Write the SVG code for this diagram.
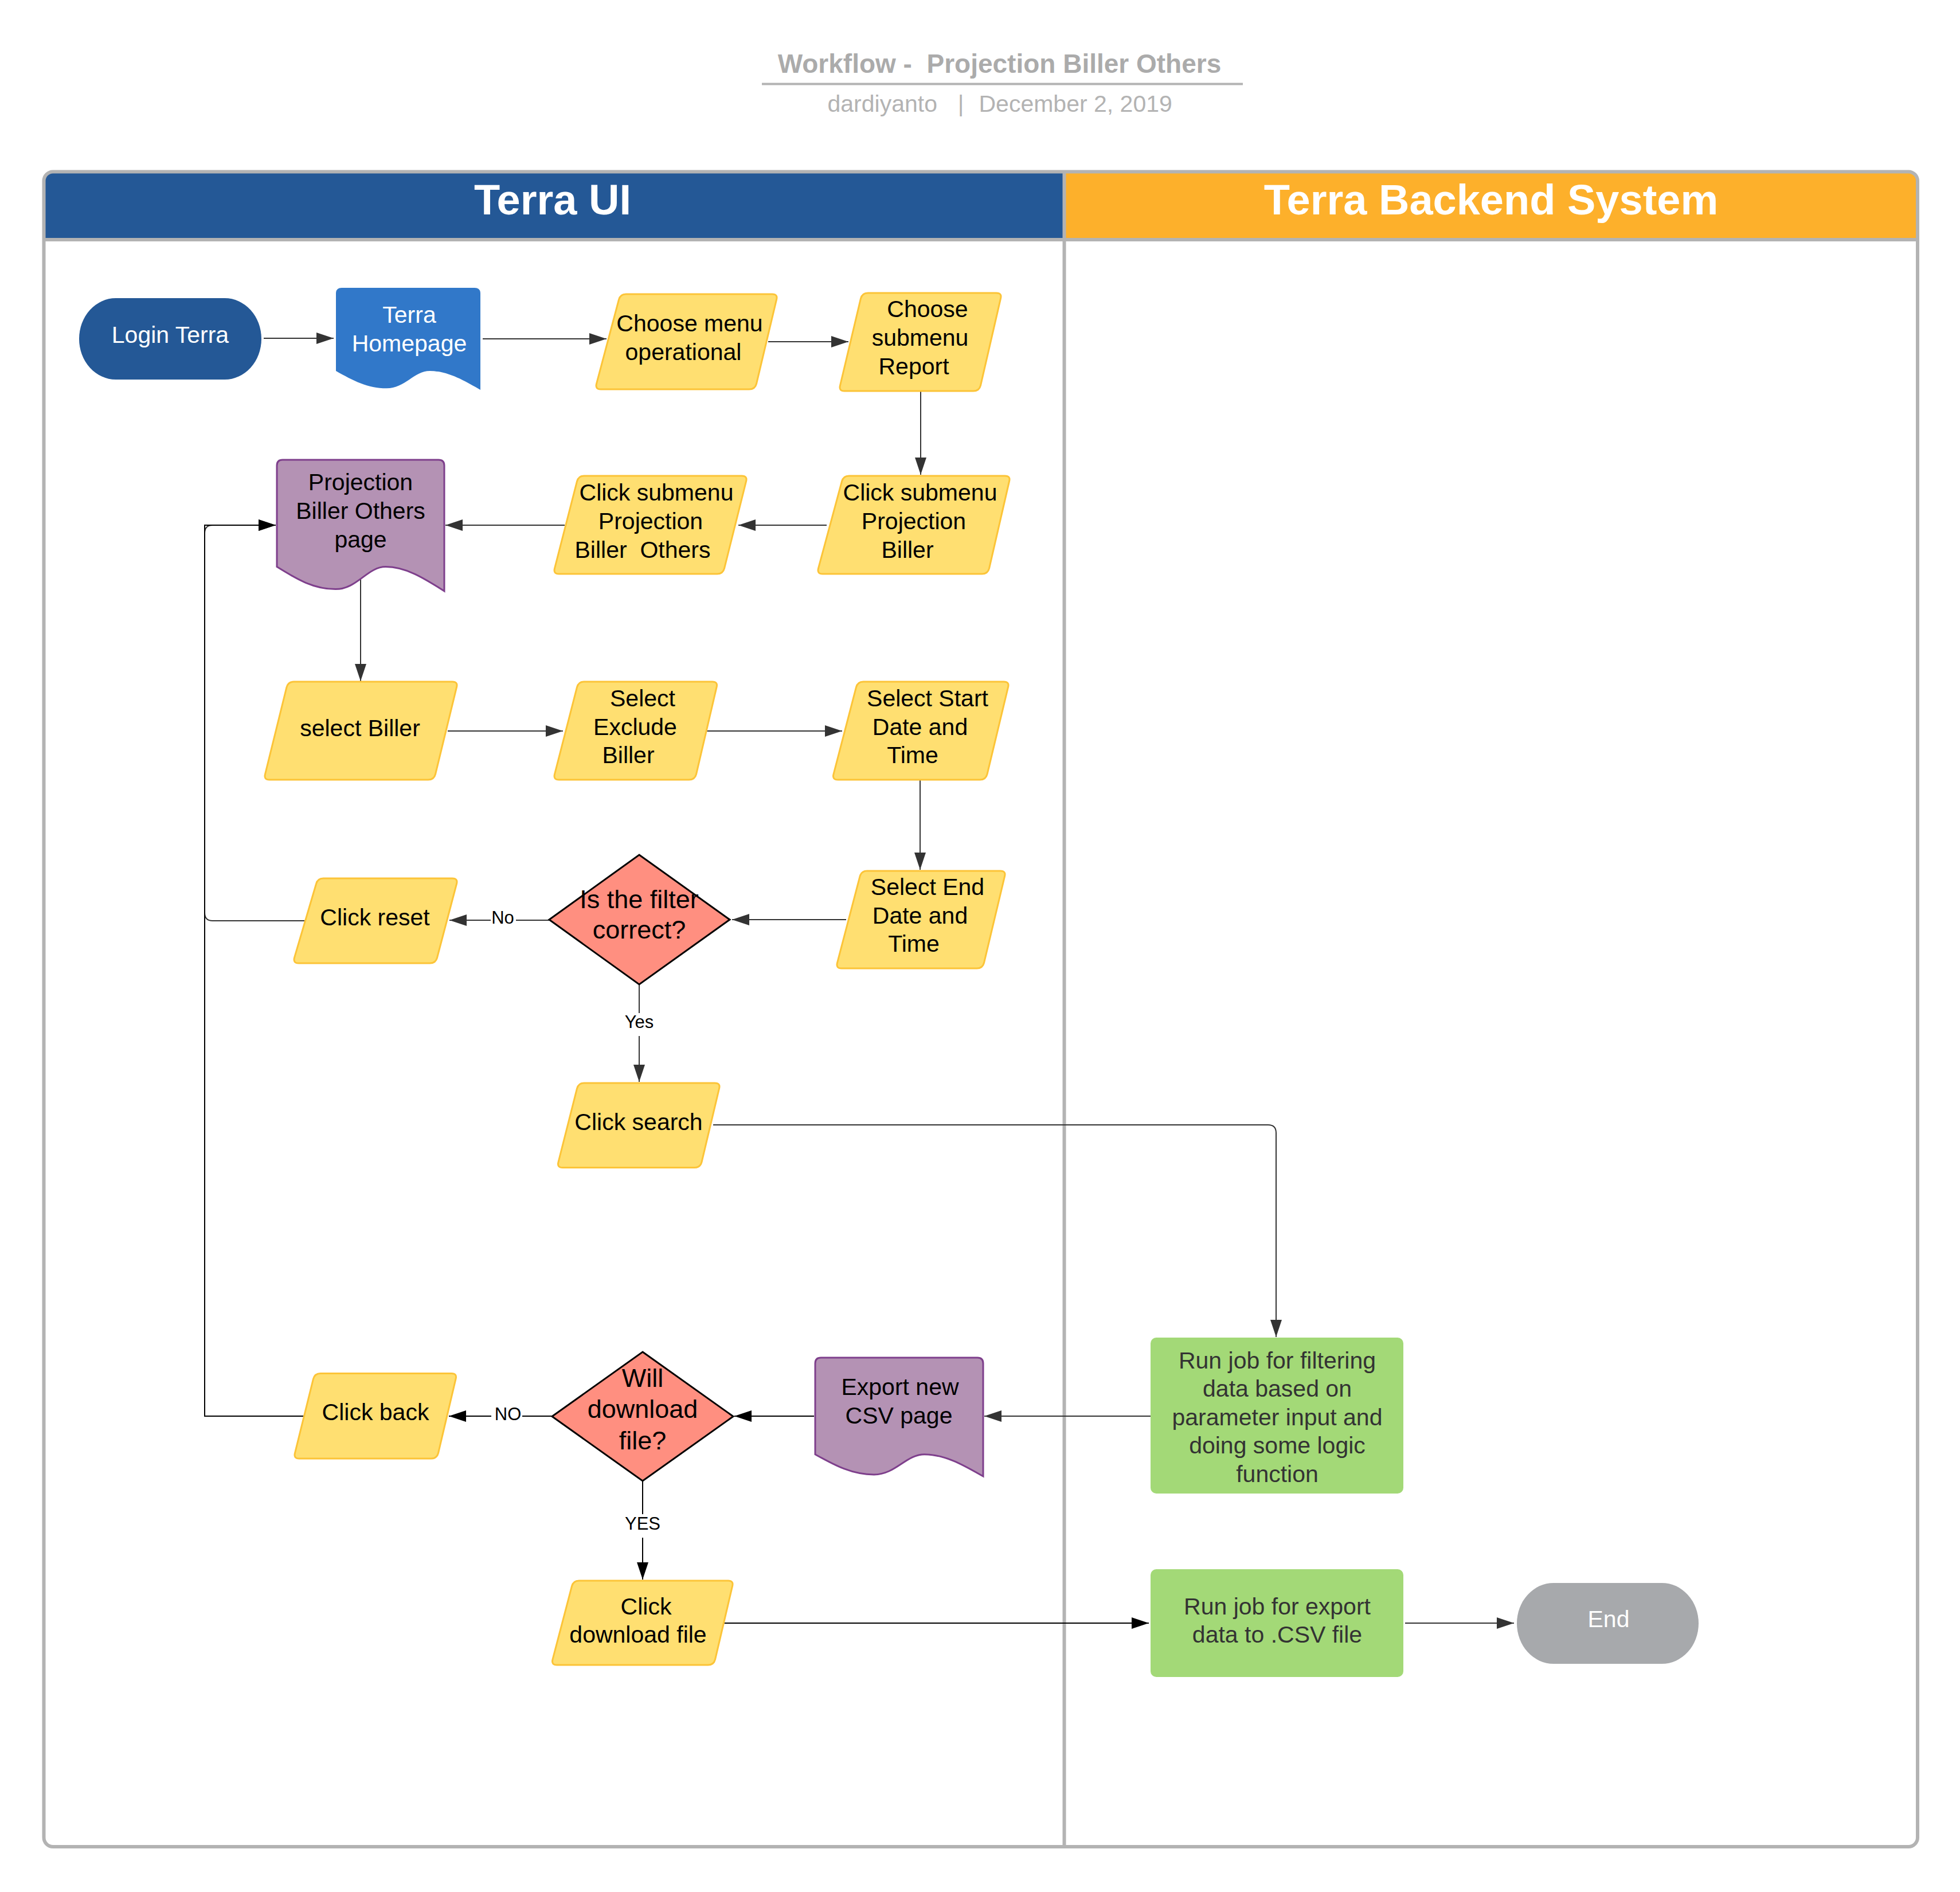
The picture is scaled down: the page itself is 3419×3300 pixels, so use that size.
<svg xmlns="http://www.w3.org/2000/svg" width="3419" height="3300" viewBox="0 0 3419 3300">
  <style>
    text { font-family: "Liberation Sans", Arial, sans-serif; }
    .t { font-size: 41px; text-anchor: middle; fill: #000; }
    .tw { font-size: 41px; text-anchor: middle; fill: #fff; }
    .tg { font-size: 41px; text-anchor: middle; fill: #333; }
    .td { font-size: 45px; text-anchor: middle; fill: #000; }
    .lbl { font-size: 31px; text-anchor: middle; fill: #000; }
    .hdr { font-size: 74px; font-weight: bold; text-anchor: middle; fill: #fff; }
    .para { fill: #FFDF71; stroke: #FCC438; stroke-width: 3; stroke-linejoin: round; }
    .dia { fill: #FF8F80; stroke: #000; stroke-width: 3; stroke-linejoin: miter; }
    .doc { fill: #B492B4; stroke: #7E3F8C; stroke-width: 3; }
    .green { fill: #A3D977; }
    .conn { fill: none; stroke: #333; stroke-width: 2; marker-end: url(#ah); }
    .conn.k { stroke: #000; marker-end: url(#ahk); }
    .plain { fill: none; stroke: #333; stroke-width: 2; }
    .plain.k { stroke: #000; }
    .lane { fill: none; stroke: #B3B3B3; stroke-width: 6; }
  </style>
  <defs>
    <marker id="ah" viewBox="0 0 30 20" refX="30" refY="10" markerWidth="30" markerHeight="20" markerUnits="userSpaceOnUse" orient="auto">
      <path d="M0,0 L30,10 L0,20 Z" fill="#333"/>
    </marker>
    <marker id="ahk" viewBox="0 0 30 20" refX="30" refY="10" markerWidth="30" markerHeight="20" markerUnits="userSpaceOnUse" orient="auto">
      <path d="M0,0 L30,10 L0,20 Z" fill="#000"/>
    </marker>
    <clipPath id="poolClip">
      <rect x="76.5" y="299.5" width="3268.5" height="2921.5" rx="16"/>
    </clipPath>
  </defs>

  <rect width="3419" height="3300" fill="#fff"/>

  <!-- title block -->
  <g id="title">
    <text x="1743.5" y="127" font-size="46" font-weight="bold" fill="#ababab" text-anchor="middle" xml:space="preserve">Workflow -  Projection Biller Others</text>
    <line x1="1329" y1="146.5" x2="2168" y2="146.5" stroke="#b3b3b3" stroke-width="4"/>
    <text x="1443.5" y="195" font-size="41" fill="#b3b3b3">dardiyanto</text>
    <text x="1676" y="195" font-size="41" fill="#b3b3b3" text-anchor="middle">|</text>
    <text x="1707.5" y="195" font-size="41" fill="#b3b3b3">December 2, 2019</text>
  </g>

  <!-- swimlane pool -->
  <g id="pool">
    <g clip-path="url(#poolClip)">
      <rect x="76" y="299" width="1780" height="118" fill="#245896"/>
      <rect x="1856" y="299" width="1490" height="118" fill="#FDB02B"/>
    </g>
    <line class="lane" x1="76" y1="418" x2="3345" y2="418"/>
    <line class="lane" x1="1856.5" y1="299" x2="1856.5" y2="3221"/>
    <rect class="lane" x="76.5" y="299.5" width="3268.5" height="2921.5" rx="16"/>
    <text class="hdr" x="964" y="374">Terra UI</text>
    <text class="hdr" x="2601" y="374">Terra Backend System</text>
  </g>

  <!-- connectors -->
  <g id="connectors">
    <path class="conn" d="M460,590 H582"/>
    <path class="conn" d="M842,591 H1058"/>
    <path class="conn" d="M1340,596 H1480"/>
    <path class="conn" d="M1606,683 V828"/>
    <path class="conn" d="M1442,916 H1288"/>
    <path class="conn" d="M985,916 H777"/>
    <path class="conn" d="M629,1010 V1188"/>
    <path class="conn" d="M781,1275 H982"/>
    <path class="conn" d="M1233,1275 H1469"/>
    <path class="conn" d="M1605,1360 V1517"/>
    <path class="conn" d="M1476,1604 H1277"/>
    <!-- No branch -->
    <path class="plain" d="M958,1605 H900"/>
    <path class="conn" d="M856,1605 H784"/>
    <text class="lbl" x="877" y="1611">No</text>
    <!-- reset loops back to the biller page -->
    <path class="conn" d="M531,1606 H371 Q357,1606 357,1592 V930 Q357,916 371,916 H481"/>
    <!-- Yes branch -->
    <path class="plain" d="M1115,1716 V1767"/>
    <path class="conn" d="M1115,1807 V1887"/>
    <text class="lbl" x="1115" y="1793">Yes</text>
    <path class="conn" d="M1244,1962 H2212 Q2226,1962 2226,1976 V2332"/>
    <path class="conn" d="M2007,2470 H1717"/>
    <path class="conn k" d="M1420,2470 H1281"/>
    <!-- NO branch -->
    <path class="plain k" d="M963,2470 H911"/>
    <path class="conn k" d="M857,2470 H783"/>
    <text class="lbl" x="886" y="2477">NO</text>
    <path class="conn k" d="M530,2470 H357 V916 H481"/>
    <!-- YES branch -->
    <path class="plain k" d="M1121,2583 V2641"/>
    <path class="conn k" d="M1121,2682 V2755"/>
    <text class="lbl" x="1121" y="2668">YES</text>
    <path class="conn k" d="M1263,2831 H2004"/>
    <path class="conn" d="M2451,2831 H2641"/>
  </g>

  <!-- nodes -->
  <g id="login-terra">
    <rect x="138" y="520" width="318" height="142" rx="64" ry="71" fill="#245896"/>
    <text class="tw" x="297" y="598">Login Terra</text>
  </g>

  <g id="terra-homepage">
    <path d="M586,512 Q586,502 596,502 H828 Q838,502 838,512 V680 C812.8,665.8 782.6,647 749.8,647 C722,647 707,677.3 674.2,677.3 C641.4,677.3 616.2,664 586,647 Z" fill="#3178C9"/>
    <text class="tw" x="714" y="563">Terra</text>
    <text class="tw" x="714" y="613">Homepage</text>
  </g>

  <g id="choose-menu-operational">
    <path class="para" d="M1092,513 H1347 Q1357,513 1354.5,522.7 L1319.5,669.3 Q1317,679 1307,679 H1048 Q1038,679 1040.5,669.3 L1079.5,522.7 Q1082,513 1092,513 Z"/>
    <text class="t" x="1203" y="578">Choose menu</text>
    <text class="t" x="1192" y="628">operational</text>
  </g>

  <g id="choose-submenu-report">
    <path class="para" d="M1514,511 H1738 Q1748,511 1745.5,520.7 L1710.5,672.3 Q1708,682 1698,682 H1473 Q1463,682 1465.5,672.3 L1501.5,520.7 Q1504,511 1514,511 Z"/>
    <text class="t" x="1618" y="553">Choose</text>
    <text class="t" x="1605" y="603">submenu</text>
    <text class="t" x="1594" y="653">Report</text>
  </g>

  <g id="click-submenu-projection-biller">
    <path class="para" d="M1481,830 H1753 Q1763,830 1760.5,839.7 L1725.5,991.3 Q1723,1001 1713,1001 H1435 Q1425,1001 1427.5,991.3 L1468.5,839.7 Q1471,830 1481,830 Z"/>
    <text class="t" x="1605" y="873">Click submenu</text>
    <text class="t" x="1594" y="923">Projection</text>
    <text class="t" x="1583" y="973">Biller</text>
  </g>

  <g id="click-submenu-projection-biller-others">
    <path class="para" d="M1019,830 H1294 Q1304,830 1301.5,839.7 L1263.5,991.3 Q1261,1001 1251,1001 H975 Q965,1001 967.5,991.3 L1006.5,839.7 Q1009,830 1019,830 Z"/>
    <text class="t" x="1145" y="873">Click submenu</text>
    <text class="t" x="1135" y="923">Projection</text>
    <text class="t" x="1121" y="973" xml:space="preserve">Biller  Others</text>
  </g>

  <g id="projection-biller-others-page">
    <path class="doc" d="M483,812 Q483,802 493,802 H765 Q775,802 775,812 V1031 C745.8,1012.7 710.8,988.6 672.8,988.6 C640.7,988.6 623.2,1027.6 585.2,1027.6 C547.2,1027.6 518,1010.4 483,988.6 Z"/>
    <text class="t" x="629" y="855">Projection</text>
    <text class="t" x="629" y="905">Biller Others</text>
    <text class="t" x="629" y="955">page</text>
  </g>

  <g id="select-biller">
    <path class="para" d="M512.5,1189 H789 Q799,1189 796.5,1198.7 L759.5,1350.3 Q757,1360 747,1360 H470 Q460,1360 462.5,1350.3 L500,1198.7 Q502.5,1189 512.5,1189 Z"/>
    <text class="t" x="628" y="1284">select Biller</text>
  </g>

  <g id="select-exclude-biller">
    <path class="para" d="M1019,1189 H1242.5 Q1252.5,1189 1250,1198.7 L1214.5,1350.3 Q1212,1360 1202,1360 H975 Q965,1360 967.5,1350.3 L1006.5,1198.7 Q1009,1189 1019,1189 Z"/>
    <text class="t" x="1121" y="1232">Select</text>
    <text class="t" x="1108" y="1282">Exclude</text>
    <text class="t" x="1096" y="1331">Biller</text>
  </g>

  <g id="select-start-date">
    <path class="para" d="M1506,1189 H1751 Q1761,1189 1758.5,1198.7 L1722,1350.3 Q1719.5,1360 1709.5,1360 H1461.5 Q1451.5,1360 1454,1350.3 L1493.5,1198.7 Q1496,1189 1506,1189 Z"/>
    <text class="t" x="1618" y="1232">Select Start</text>
    <text class="t" x="1605" y="1282">Date and</text>
    <text class="t" x="1592" y="1331">Time</text>
  </g>

  <g id="select-end-date">
    <path class="para" d="M1512.5,1519 H1745 Q1755,1519 1752.5,1528.7 L1716.5,1679.3 Q1714,1689 1704,1689 H1468 Q1458,1689 1460.5,1679.3 L1500,1528.7 Q1502.5,1519 1512.5,1519 Z"/>
    <text class="t" x="1618" y="1561">Select End</text>
    <text class="t" x="1605" y="1611">Date and</text>
    <text class="t" x="1594" y="1660">Time</text>
  </g>

  <g id="is-filter-correct">
    <polygon class="dia" points="1115,1491 1273,1604 1115,1717 958,1604"/>
    <text class="td" x="1115" y="1584">Is the filter</text>
    <text class="td" x="1115" y="1637">correct?</text>
  </g>

  <g id="click-reset">
    <path class="para" d="M564,1532 H789 Q799,1532 796.5,1541.7 L762.5,1670.3 Q760,1680 750,1680 H521 Q511,1680 513.5,1670.3 L551.5,1541.7 Q554,1532 564,1532 Z"/>
    <text class="t" x="654" y="1614">Click reset</text>
  </g>

  <g id="click-search">
    <path class="para" d="M1019,1889 H1247 Q1257,1889 1254.5,1898.7 L1224,2026.8 Q1221.5,2036.5 1211.5,2036.5 H981.5 Q971.5,2036.5 974,2026.8 L1006.5,1898.7 Q1009,1889 1019,1889 Z"/>
    <text class="t" x="1114" y="1971">Click search</text>
  </g>

  <g id="run-job-filtering">
    <rect class="green" x="2007" y="2333" width="441" height="272" rx="10"/>
    <text class="tg" x="2228" y="2387">Run job for filtering</text>
    <text class="tg" x="2228" y="2436">data based on</text>
    <text class="tg" x="2228" y="2486">parameter input and</text>
    <text class="tg" x="2228" y="2535">doing some logic</text>
    <text class="tg" x="2228" y="2585">function</text>
  </g>

  <g id="export-new-csv-page">
    <path class="doc" d="M1422,2378 Q1422,2368 1432,2368 H1705 Q1715,2368 1715,2378 V2575 C1685.7,2558.4 1650.5,2536.7 1612.5,2536.7 C1580.2,2536.7 1562.6,2571.9 1524.6,2571.9 C1486.5,2571.9 1457.2,2556.4 1422,2536.7 Z"/>
    <text class="t" x="1570" y="2433">Export new</text>
    <text class="t" x="1568" y="2483">CSV page</text>
  </g>

  <g id="will-download-file">
    <polygon class="dia" points="1121,2358 1279,2470.5 1121,2583 963,2470.5"/>
    <text class="td" x="1121" y="2419">Will</text>
    <text class="td" x="1121" y="2473">download</text>
    <text class="td" x="1121" y="2528">file?</text>
  </g>

  <g id="click-back">
    <path class="para" d="M559,2395.5 H787.5 Q797.5,2395.5 795,2405.2 L764.5,2534.3 Q762,2544 752,2544 H522 Q512,2544 514.5,2534.3 L546.5,2405.2 Q549,2395.5 559,2395.5 Z"/>
    <text class="t" x="655" y="2477">Click back</text>
  </g>

  <g id="click-download-file">
    <path class="para" d="M1010,2757 H1270 Q1280,2757 1277.5,2766.7 L1247.5,2894.3 Q1245,2904 1235,2904 H971.5 Q961.5,2904 964,2894.3 L997.5,2766.7 Q1000,2757 1010,2757 Z"/>
    <text class="t" x="1127" y="2816">Click</text>
    <text class="t" x="1113" y="2865">download file</text>
  </g>

  <g id="run-job-export">
    <rect class="green" x="2007" y="2737" width="441" height="188" rx="10"/>
    <text class="tg" x="2228" y="2816">Run job for export</text>
    <text class="tg" x="2228" y="2865">data to .CSV file</text>
  </g>

  <g id="end">
    <rect x="2646" y="2761" width="317" height="141" rx="64" ry="70.5" fill="#A7A9AC"/>
    <text class="tw" x="2806" y="2838">End</text>
  </g>
</svg>
